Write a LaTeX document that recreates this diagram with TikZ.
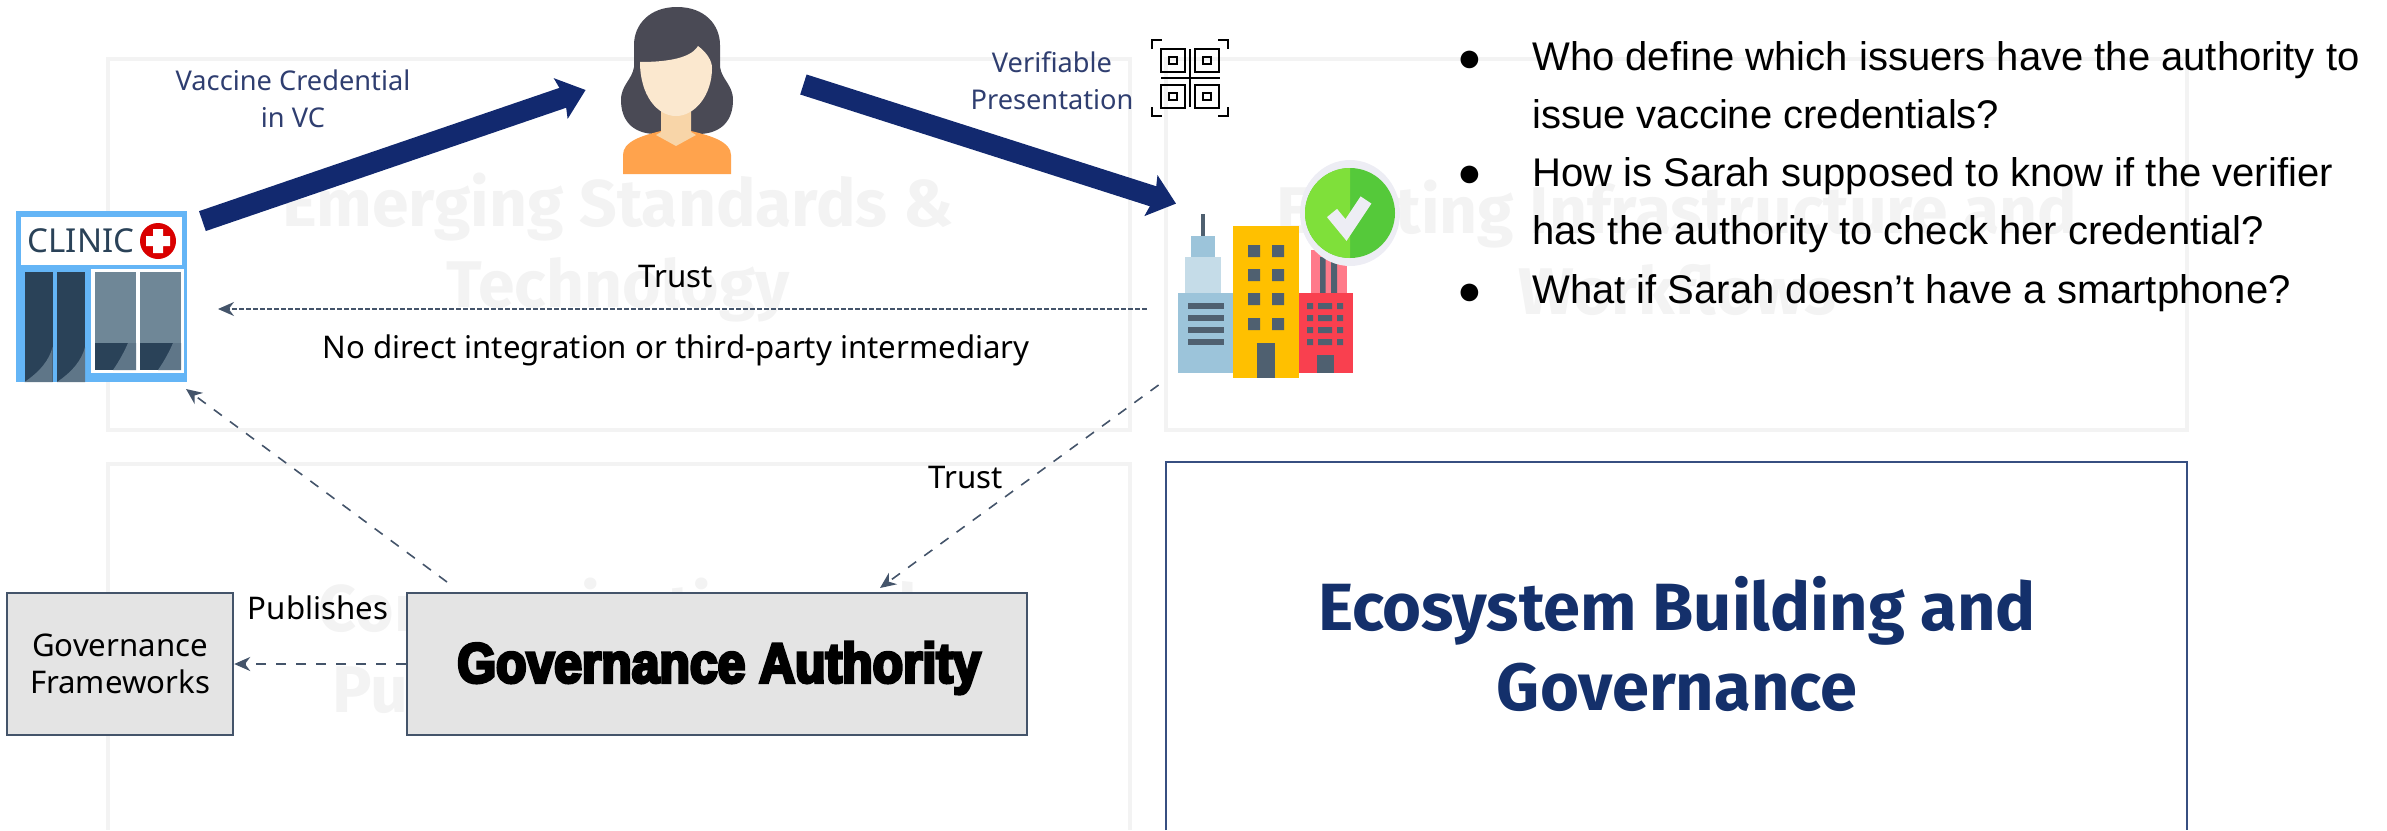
\documentclass[tikz,border=0pt]{standalone}
\usepackage{fontspec}
\usetikzlibrary{arrows.meta,positioning,calc}
\setmainfont{Liberation Sans}
\newfontfamily\labelfont{Noto Sans}
\newfontfamily\titlefont{Fira Sans}
\newfontfamily\heavyfont[FakeStretch=0.89,BoldFeatures={FakeBold=5.5}]{Liberation Sans}
\definecolor{navy}{HTML}{12296F}
\definecolor{labelblue}{HTML}{2F3E70}
\definecolor{titleblue}{HTML}{14306B}
\definecolor{ghost}{HTML}{F3F3F3}
\definecolor{slate}{HTML}{44546A}
\definecolor{boxgrey}{HTML}{E4E4E4}
\definecolor{doordark}{HTML}{2A4258}
\definecolor{doorlight}{HTML}{5F7688}
\definecolor{pane}{HTML}{6F8797}
\definecolor{framecol}{HTML}{64B5F6}
\definecolor{hair}{HTML}{4A4A55}
\definecolor{skin}{HTML}{FBE8CF}
\definecolor{neck}{HTML}{F8D5A8}
\definecolor{shirt}{HTML}{FFA34D}
\definecolor{towera}{HTML}{9CC4DA}
\definecolor{towerb}{HTML}{C5DCE8}
\definecolor{towery}{HTML}{FFC000}
\definecolor{towerr}{HTML}{F9404F}
\definecolor{towerp}{HTML}{FF7A8A}
\definecolor{winCol}{HTML}{4F6070}
\definecolor{okl}{HTML}{7FE03A}
\definecolor{okd}{HTML}{55C93A}
\definecolor{okw}{HTML}{EDEDF4}
\tikzset{
    %Define standard arrow tip
    >={Stealth[length=8pt,width=7pt]},
    %Define style for panels
    panel/.style={draw=ghost, line width=2pt},
    ghosttext/.style={text=ghost, font=\titlefont\bfseries\fontsize{33}{40.5}\selectfont, align=center},
    punkt/.style={
           rectangle,
           draw=slate, line width=1.2pt,
           fill=boxgrey,
           align=center},
    % Define arrow styles
    pil/.style={
           line width=10.5pt, draw=navy,
           -{Stealth[length=13pt,width=21pt,inset=2pt]}},
    dashpil/.style={
           draw=slate, line width=0.8pt, ->, dash pattern=on 5pt off 5pt},
    lab/.style={font=\labelfont\fontsize{13.6}{18.5}\selectfont, align=center},
    blab/.style={font=\labelfont\fontsize{15.6}{18.5}\selectfont, align=center},
    item/.style={anchor=north west, align=left, inner sep=0pt,
           font=\fontsize{20}{29}\selectfont},
    dot/.style={inner sep=0pt, font=\fontsize{20.5}{29}\selectfont}
}
\begin{document}
\begin{tikzpicture}[x=0.5pt,y=-0.5pt]
 \useasboundingbox (0,0) rectangle (2387,830);

 %Panels
 \draw[panel] (108,59) rectangle (1130,430);
 \draw[panel] (1166,59) rectangle (2187,430);
 \draw[panel] (108,830) -- (108,464) -- (1130,464) -- (1130,830);
 \draw[draw=titleblue!85!white,line width=1.2pt] (1166,830) -- (1166,462) -- (2187,462) -- (2187,830);
 \node[ghosttext] (emerging) at (618,248) {Emerging Standards \&\\Technology};
 \node[ghosttext] (existing) at (1677,248) {Existing Infrastructure and\\Workflows};
 \node[ghosttext] (community) at (618,653) {Communication and\\Public Engagement};

 %Boxes
 \node[punkt,minimum width=310,minimum height=71,inner sep=0pt] (ga) at (717,664) {};
 \node[font=\heavyfont\bfseries\fontsize{28}{32}\selectfont] (gatext) at (719,668) {Governance Authority};
 \node[punkt,blab,minimum width=113,minimum height=71,inner sep=0pt] (gf) at (120,664) {Governance\\Frameworks};
 \node[font=\titlefont\bfseries\fontsize{33.4}{40}\selectfont,text=titleblue,align=center] (eco) at (1677,644) {Ecosystem Building and\\Governance};

 %Clinic
 \node[minimum width=86,minimum height=86,inner sep=0pt] (clinic) at (101.5,296.5) {};
 \fill[framecol] (16,211) rectangle (187,382);
 \fill[white] (21,217) rectangle (182,265);
 \node[inner sep=0pt,text=doordark,font=\labelfont\fontsize{16.5}{18}\selectfont] (clinicname) at (81,241) {CLINIC};
 \fill[red!85!black] (158,241) circle[radius=18];
 \fill[white] (153,229) rectangle (163,253) (146,236) rectangle (170,246);
 \fill[white] (91,269) rectangle (184,373);
 \foreach \x in {24.5,57} {
  \fill[doordark] (\x,272) rectangle ++(28,110);
  \fill[doorlight] (\x,382) .. controls (\x+15,372) and (\x+25,360) .. (\x+28,347) -- (\x+28,382) -- cycle;
 }
 \foreach \x in {95,140} {
  \fill[pane] (\x,272) rectangle ++(41,71);
  \fill[doordark] (\x,343) rectangle ++(41,27);
  \fill[doorlight] (\x+18,370) .. controls (\x+25,360) and (\x+30,350) .. (\x+33,343) -- (\x+41,343) -- (\x+41,370) -- cycle;
 }

 %Woman
 \node[minimum width=56,minimum height=84,inner sep=0pt] (sarah) at (677,90) {};
 \fill[hair] (677,7) .. controls (705,7) and (720,25) .. (720,45) -- (720,67)
   .. controls (722,80) and (733,85) .. (733,100) .. controls (733,120) and (722,133) .. (700,134)
   -- (654,134) .. controls (632,133) and (621,120) .. (621,100) .. controls (621,85) and (632,80) .. (634,67)
   -- (634,45) .. controls (634,25) and (649,7) .. (677,7) -- cycle;
 \fill[shirt] (623,174) -- (623,155) .. controls (623,142) and (640,136) .. (661,131)
   -- (691,131) .. controls (712,136) and (731,142) .. (731,155) -- (731,174) -- cycle;
 \fill[neck] (661,108) -- (691,108) -- (691,132) -- (696,135) -- (676,146) -- (656,135) -- (661,132) -- cycle;
 \fill[skin] (640,62) .. controls (660,62) and (690,60) .. (698,46)
   .. controls (706,52) and (712,60) .. (712,68) .. controls (712,95) and (695,116) .. (676,116)
   .. controls (657,116) and (640,95) .. (640,62) -- cycle;

 %Verifier
 \node[minimum width=88,minimum height=82,inner sep=0pt] (verifier) at (1265,296) {};
 \fill[winCol] (1200.5,214) rectangle (1205,236);
 \fill[towera] (1191,236) rectangle (1215,257);
 \fill[towerb] (1185,257) rectangle (1221,293);
 \fill[towera] (1178,293) rectangle (1233,373);
 \foreach \y in {303,315,327,339} \fill[winCol] (1188,\y) rectangle ++(36,6);
 \fill[towerp] (1311,250) rectangle (1347,293);
 \fill[winCol] (1320,257) rectangle (1325.5,293) (1331,257) rectangle (1337,293);
 \fill[towerr] (1299,293) rectangle (1353,373);
 \foreach \y in {303,315,327,339} {
  \fill[winCol] (1307,\y) rectangle ++(6,6) (1318,\y) rectangle ++(14,6) (1337,\y) rectangle ++(6,6);
 }
 \fill[winCol] (1317,355) rectangle (1334,373);
 \fill[towery] (1233,226) rectangle (1299,378);
 \foreach \y in {245,269,293,318} \fill[winCol] (1248,\y) rectangle ++(12,12) (1272,\y) rectangle ++(12,12);
 \fill[winCol] (1257,343) rectangle (1275,378);
 \fill[okw] (1350,213) circle[x radius=50,y radius=53];
 \fill[okd] (1350,213) circle[radius=45];
 \fill[okl] (1350,258) arc[start angle=90,end angle=270,radius=45] -- cycle;
 \draw[okw,line width=6.5pt] (1332,213) -- (1346,230) -- (1366,200);

 %QR code
 \node[minimum width=39,minimum height=39,inner sep=0pt] (qr) at (1190,78) {};
 \draw[line width=1.3pt] (1152,49) |- (1162,40) (1218,40) -| (1228,49) (1152,107) |- (1162,116) (1218,116) -| (1228,107);
 \foreach \x in {1161,1195} \foreach \y in {49,85} {
  \draw[line width=1.2pt] (\x,\y) rectangle ++(24,23);
  \draw[line width=1.2pt] (\x+8,\y+8) rectangle ++(8,7);
 }
 \draw[line width=1.2pt] (1190,49) -- (1190,107) (1161,78) -- (1220,78);

 %Connectors
 \draw[pil] ($(clinic.north east)+(14.5,11)$) -- ($(sarah.west)+(-35,0)$);
 \draw[pil] ($(sarah.east)+(70,-5.5)$) -- ($(verifier.north west)+(-0.6,-10)$);
 \draw[draw=slate,line width=0.8pt,->,dash pattern=on 2.5pt off 1pt] ($(verifier.west)+(-30,13)$) -- (218,309);
 \coordinate (leftend) at (186,389);
 \coordinate (rightstart) at (1158.6,385);
 \coordinate (gatopleft) at (447,582);
 \coordinate (gatopright) at (880,588);
 \draw[dashpil] (gatopleft) -- (leftend);
 \draw[dashpil] (rightstart) -- (gatopright);
 \draw[dashpil,line width=1.2pt] (ga.west) -- (gf.east);

 %Labels
 \node[lab,text=labelblue] (vaccine) at (293,98.5) {Vaccine Credential\\in VC};
 \node[lab,text=labelblue] (verifiable) at (1052,80.5) {Verifiable\\Presentation};
 \node[blab] (trust) at (676,277) {Trust};
 \node[blab] (nodirect) at (676,350) {No direct integration or third-party intermediary};
 \node[blab] (trust2) at (966,478) {Trust};
 \node[blab] (publishes) at (318,608) {Publishes};

 %Questions
 \node[dot] (dot1) at (1470,61) {●};
 \node[dot] (dot2) at (1470,176) {●};
 \node[dot] (dot3) at (1470,294) {●};
 \node[item] (q1) at (1532,41) {Who define which issuers have the authority to\\issue vaccine credentials?};
 \node[item] (q2) at (1532,157) {How is Sarah supposed to know if the verifier\\has the authority to check her credential?};
 \node[item] (q3) at (1532,274) {What if Sarah doesn’t have a smartphone?};
\end{tikzpicture}
\end{document}
